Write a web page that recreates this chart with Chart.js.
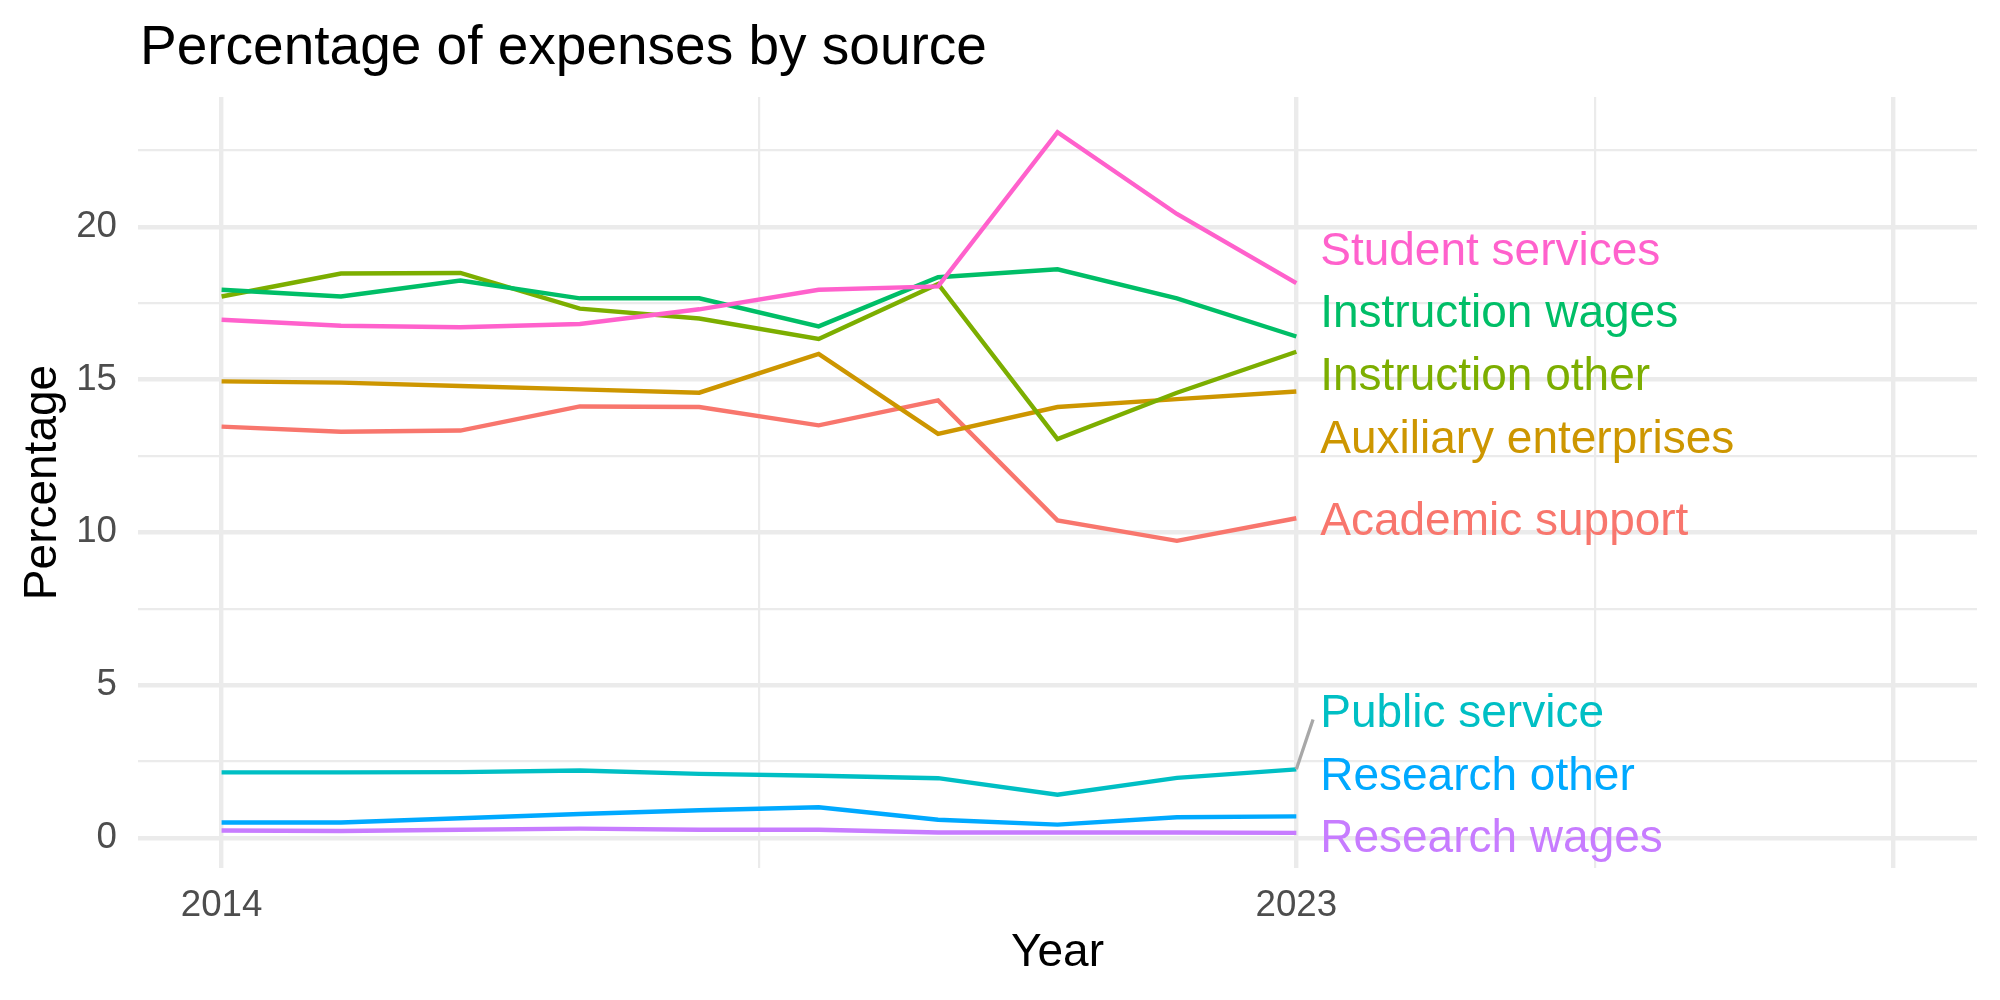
<!DOCTYPE html>
<html>
<head>
<meta charset="utf-8">
<script src="https://cdn.jsdelivr.net/npm/chart.js@4"></script>
<style>
  body { margin: 0; background: #fff; }
  canvas { display: block; }
</style>
</head>
<body>
<canvas id="expenses" width="2000" height="1000"></canvas>
<script>
// data
const years = [2014, 2015, 2016, 2017, 2018, 2019, 2020, 2021, 2022, 2023];
const sources = ['Academic support', 'Auxiliary enterprises', 'Instruction other', 'Instruction wages',
  'Public service', 'Research other', 'Research wages', 'Student services'];
const academicSupport = [13.46, 13.29, 13.33, 14.12, 14.10, 13.50, 14.32, 10.39, 9.72, 10.46];
const auxiliaryEnterprises = [14.94, 14.90, 14.79, 14.68, 14.57, 15.84, 13.22, 14.10, 14.36, 14.61];
const instructionOther = [17.72, 18.47, 18.49, 17.32, 17.00, 16.33, 18.13, 13.05, 14.57, 15.91];
const instructionWages = [17.94, 17.72, 18.24, 17.66, 17.66, 16.74, 18.35, 18.61, 17.66, 16.41];
const publicService = [2.14, 2.14, 2.15, 2.20, 2.09, 2.03, 1.95, 1.41, 1.96, 2.24];
const researchOther = [0.50, 0.50, 0.64, 0.78, 0.90, 1.00, 0.59, 0.43, 0.67, 0.70];
const researchWages = [0.24, 0.22, 0.26, 0.30, 0.26, 0.26, 0.17, 0.17, 0.17, 0.16];
const studentServices = [16.96, 16.76, 16.71, 16.82, 17.30, 17.94, 18.05, 23.10, 20.42, 18.16];
const colors = ['#F8766D', '#CD9600', '#7CAE00', '#00BE67', '#00BFC4', '#00A9FF', '#C77CFF', '#FF61CC'];

// repelled end labels (baseline value of each label)
const labelX = 2023.2;
const labelPos = [9.91, 12.61, 14.66, 16.71, 3.62, 1.57, -0.47, 18.76];
// leader segment for "Public service"
const leaderFrom = [2023, 2.24];
const leaderTo = [2023.14, 3.87];

const xMajor = [2014, 2023, 2028];
const xMinor = [2018.5, 2025.5];
const xLabels = {2014: '2014', 2023: '2023'};
const yMajor = [0, 5, 10, 15, 20];
const yMinor = [2.5, 7.5, 12.5, 17.5, 22.5];

const series = [academicSupport, auxiliaryEnterprises, instructionOther, instructionWages,
  publicService, researchOther, researchWages, studentServices];

const FONT = '"Liberation Sans", Arial, Helvetica, sans-serif';
const GRID = '#EBEBEB';

const textPlugin = {
  id: 'texts',
  afterDatasetsDraw(chart) {
    const ctx = chart.ctx;
    const xs = chart.scales.x, ys = chart.scales.y;
    const area = chart.chartArea;
    ctx.save();
    // leader line
    ctx.strokeStyle = '#A8A8A8';
    ctx.lineWidth = 3.3;
    ctx.beginPath();
    ctx.moveTo(xs.getPixelForValue(leaderFrom[0]), ys.getPixelForValue(leaderFrom[1]));
    ctx.lineTo(xs.getPixelForValue(leaderTo[0]), ys.getPixelForValue(leaderTo[1]));
    ctx.stroke();
    // end labels
    ctx.font = '46px ' + FONT;
    ctx.textAlign = 'left';
    ctx.textBaseline = 'alphabetic';
    sources.forEach((s, i) => {
      ctx.fillStyle = colors[i];
      ctx.fillText(s, xs.getPixelForValue(labelX), ys.getPixelForValue(labelPos[i]));
    });
    // title
    ctx.fillStyle = '#000';
    ctx.font = '55px ' + FONT;
    ctx.fillText('Percentage of expenses by source', area.left + 2, 64);
    // axis titles
    ctx.font = '46px ' + FONT;
    ctx.textAlign = 'center';
    ctx.fillText('Year', (area.left + area.right) / 2, 966);
    ctx.translate(56, (area.top + area.bottom) / 2);
    ctx.rotate(-Math.PI / 2);
    ctx.fillText('Percentage', 0, 0);
    ctx.restore();
  }
};

new Chart(document.getElementById('expenses'), {
  type: 'line',
  data: {
    datasets: sources.map((s, i) => ({
      label: s,
      data: years.map((y, j) => ({x: y, y: series[i][j]})),
      borderColor: colors[i],
      borderWidth: 4.4,
      pointRadius: 0,
      tension: 0,
      fill: false,
      order: sources.length - i
    }))
  },
  options: {
    responsive: false,
    animation: false,
    layout: {padding: {left: 0, right: 23, top: 97, bottom: 0}},
    plugins: {legend: {display: false}, title: {display: false}, tooltip: {enabled: false}},
    scales: {
      x: {
        type: 'linear',
        min: 2013.3,
        max: 2028.7,
        afterBuildTicks: axis => {
          axis.ticks = xMajor.concat(xMinor).sort((a, b) => a - b).map(v => ({value: v}));
        },
        afterFit: axis => { axis.height = 132; },
        border: {display: false},
        grid: {
          color: GRID,
          drawTicks: false,
          lineWidth: c => xMajor.includes(c.tick.value) ? 4.4 : 2.2
        },
        ticks: {
          autoSkip: false,
          maxRotation: 0,
          padding: 16,
          color: '#4D4D4D',
          font: {family: FONT, size: 36.7},
          callback: v => xLabels[v] || ''
        }
      },
      y: {
        min: -0.99,
        max: 24.25,
        afterBuildTicks: axis => {
          axis.ticks = yMajor.concat(yMinor).sort((a, b) => a - b).map(v => ({value: v}));
        },
        afterFit: axis => { axis.width = 138; },
        border: {display: false},
        grid: {
          color: GRID,
          drawTicks: false,
          lineWidth: c => yMajor.includes(c.tick.value) ? 4.4 : 2.2
        },
        ticks: {
          autoSkip: false,
          padding: 21,
          color: '#4D4D4D',
          font: {family: FONT, size: 36.7},
          callback: v => yMajor.includes(v) ? String(v) : ''
        }
      }
    }
  },
  plugins: [textPlugin]
});
</script>
</body>
</html>
